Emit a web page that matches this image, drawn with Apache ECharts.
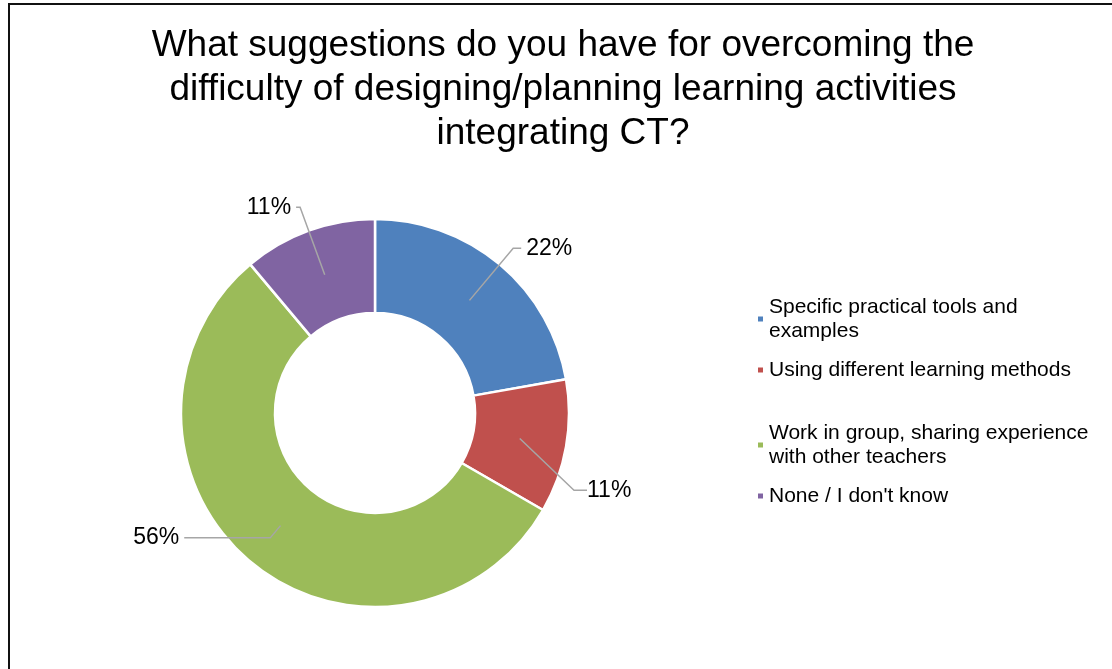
<!DOCTYPE html>
<html>
<head>
<meta charset="utf-8">
<script src="https://cdn.jsdelivr.net/npm/echarts@6/dist/echarts.min.js"></script>
<style>
  html, body { margin: 0; padding: 0; background: #fff; overflow: hidden; }
  #main { width: 1112px; height: 669px; }
  #frame { position: absolute; left: 8px; top: 3px; width: 1120px; height: 700px;
           border-left: 2px solid #111; border-top: 2px solid #111; pointer-events: none; }
</style>
</head>
<body>
<div id="main"></div>
<div id="frame"></div>
<script>
// data (counts out of 9 answers)
var categories = [
    'Specific practical tools and examples',
    'Using different learning methods',
    'Work in group, sharing experience with other teachers',
    "None / I don't know"
];
var counts = [2, 1, 5, 1];
var colors = ['#4F81BD', '#C0504D', '#9BBB59', '#8064A2'];
var titleText = 'What suggestions do you have for overcoming the\ndifficulty of designing/planning learning activities\nintegrating CT?';

var cx = 375, cy = 413, innerR = 100, outerR = 194;
var midR = (innerR + outerR) / 2;
var legendTops = [295, 358, 421, 484];
// label leader lines: first segment from the middle of the ring, then horizontal
var lineLen = [68, 50, 16, 72];
var lineLen2 = [8, 13, 86, 4];
var labelDrop = [0, 43, 0, 0];   // the red label sits lower in the original

var font = 'Liberation Sans, Arial, sans-serif';
var myChart = echarts.init(document.getElementById('main'));

var ringData = categories.map(function (c, i) {
    return { name: c, value: counts[i], itemStyle: { color: colors[i] } };
});
// see-through copy of the ring that only carries the percentage labels
var labelData = categories.map(function (c, i) {
    return {
        name: c, value: counts[i],
        itemStyle: { color: 'rgba(0,0,0,0)' },
        labelLine: { length: lineLen[i], length2: lineLen2[i] }
    };
});

var legends = categories.map(function (c, i) {
    return {
        data: [c],
        orient: 'vertical',
        left: 756,
        top: legendTops[i],
        padding: 0,
        icon: 'rect',
        itemWidth: 7,
        itemHeight: 7,
        selectedMode: false,
        textStyle: {
            fontFamily: font,
            fontSize: 21,
            lineHeight: 24,
            color: '#000',
            width: 332,
            overflow: 'break'
        }
    };
});

var option = {
    animation: false,
    title: {
        text: titleText,
        left: 563,
        textAlign: 'center',
        top: 24,
        padding: 0,
        textStyle: {
            fontFamily: font,
            fontSize: 37,
            fontWeight: 'normal',
            lineHeight: 44,
            color: '#000'
        }
    },
    legend: legends,
    series: [
        {
            type: 'pie',
            name: 'ring',
            z: 2,
            center: [cx, cy],
            radius: [innerR, outerR],
            startAngle: 90,
            clockwise: true,
            itemStyle: { borderColor: '#fff', borderWidth: 2.5 },
            label: { show: false },
            labelLine: { show: false },
            emphasis: { disabled: true },
            data: ringData
        },
        {
            type: 'pie',
            name: 'labels',
            z: 5,
            center: [cx, cy],
            radius: [0, midR],
            startAngle: 90,
            clockwise: true,
            silent: true,
            avoidLabelOverlap: false,
            itemStyle: { borderWidth: 0 },
            label: {
                show: true,
                position: 'outside',
                formatter: function (p) { return Math.round(p.percent) + '%'; },
                fontFamily: font,
                fontSize: 23,
                color: '#000',
                opacity: 1,
                distanceToLabelLine: 5
            },
            labelLine: {
                show: true,
                lineStyle: { color: '#A6A6A6', width: 1.5, opacity: 1 }
            },
            labelLayout: function (p) {
                var drop = labelDrop[p.dataIndex];
                if (!drop) return {};
                var r = p.labelRect;
                return {
                    x: r.x,
                    y: r.y + r.height / 2 + drop,
                    align: 'left',
                    verticalAlign: 'middle'
                };
            },
            emphasis: { disabled: true },
            data: labelData
        }
    ]
};

myChart.setOption(option);
</script>
</body>
</html>
